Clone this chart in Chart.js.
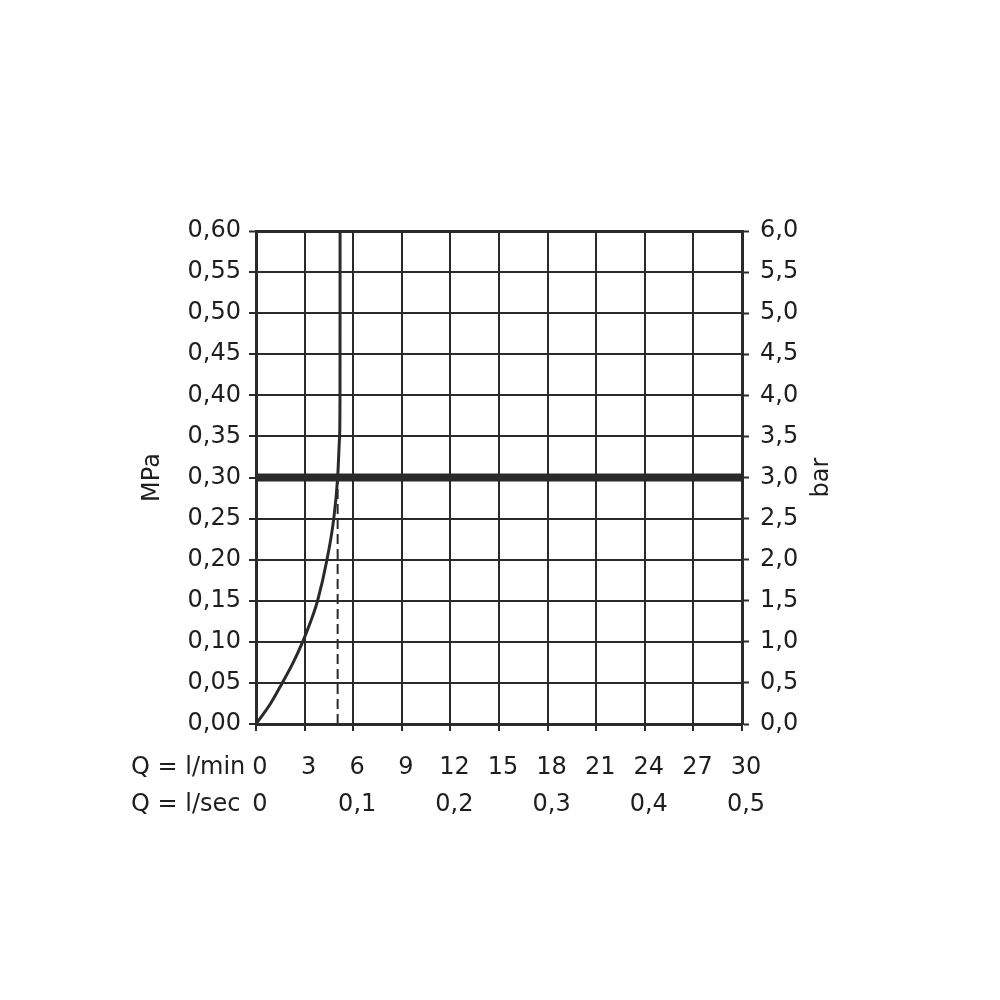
<!DOCTYPE html>
<html>
<head>
<meta charset="utf-8">
<script src="https://cdn.jsdelivr.net/npm/chart.js@4"></script>
<style>
  html, body { margin: 0; padding: 0; background: #ffffff; }
  #wrap { width: 1000px; height: 1000px; }
</style>
</head>
<body>
<div id="wrap"><canvas id="c" width="1000" height="1000"></canvas></div>
<script>
// ---- Data ----
const flowLpm      = [0, 0.9, 1.62, 2.3, 2.88, 3.38, 3.8, 4.38, 4.8, 5.04, 5.16, 5.185, 5.19];
const pressureMPa  = [0, 0.025, 0.05, 0.075, 0.10, 0.125, 0.15, 0.20, 0.25, 0.30, 0.35, 0.40, 0.60];
const workFlowLpm  = [5.04, 5.04];
const workPressure = [0, 0.30];
const refLineFlow  = [0, 30];
const refLinePress = [0.30, 0.30];
const lpmLabels = ['0','3','6','9','12','15','18','21','24','27','30'];
const lpsLabels = ['0','','0,1','','0,2','','0,3','','0,4','','0,5'];
const mpaLabels = ['0,00','0,05','0,10','0,15','0,20','0,25','0,30','0,35','0,40','0,45','0,50','0,55','0,60'];
const barLabels = ['0,0','0,5','1,0','1,5','2,0','2,5','3,0','3,5','4,0','4,5','5,0','5,5','6,0'];
const rowTitles = ['Q = l/min', 'Q = l/sec'];

const FONT = 'DejaVu Sans';
const INK = '#2a2a2a';
const TXT = '#1e1e1e';
const TICK_LEN = 7;
const XPAD = 18;
const LINE_H = 37;

const zip = (xs, ys) => xs.map((x, i) => ({x: x, y: ys[i]}));

const extras = {
  id: 'extras',
  beforeDraw(chart) {
    const ctx = chart.ctx;
    ctx.save();
    ctx.fillStyle = '#ffffff';
    ctx.fillRect(0, 0, chart.width, chart.height);
    ctx.restore();
  },
  afterDraw(chart) {
    const ctx = chart.ctx;
    const a = chart.chartArea;
    ctx.save();
    ctx.fillStyle = TXT;
    ctx.font = '24px "' + FONT + '"';
    ctx.textBaseline = 'middle';
    ctx.textAlign = 'left';
    const y0 = a.bottom + TICK_LEN + XPAD + LINE_H / 2;
    rowTitles.forEach((t, i) => ctx.fillText(t, 131, y0 + i * LINE_H));
    ctx.translate(822, (a.top + a.bottom) / 2);
    ctx.rotate(-Math.PI / 2);
    ctx.textAlign = 'center';
    ctx.fillText('bar', 0, 0);
    ctx.restore();
  }
};

new Chart(document.getElementById('c'), {
  type: 'scatter',
  data: {
    datasets: [
      { data: zip(refLineFlow, refLinePress), showLine: true, borderColor: INK, borderWidth: 8,
        pointRadius: 0, borderCapStyle: 'butt' },
      { data: zip(flowLpm, pressureMPa), showLine: true, borderColor: INK, borderWidth: 3,
        pointRadius: 0, cubicInterpolationMode: 'monotone' },
      { data: zip(workFlowLpm, workPressure), showLine: true, borderColor: INK, borderWidth: 2,
        borderDash: [10, 5], pointRadius: 0 }
    ]
  },
  options: {
    responsive: false,
    animation: false,
    layout: { padding: { left: 130, right: 158, top: 231, bottom: 156 } },
    plugins: { legend: { display: false }, tooltip: { enabled: false } },
    scales: {
      x: {
        type: 'linear', position: 'bottom', min: 0, max: 30,
        ticks: { count: 11, color: TXT, padding: XPAD, labelOffset: 4, maxRotation: 0, autoSkip: false,
          font: { family: FONT, size: 24, lineHeight: LINE_H / 24 },
          callback: (v, i) => [lpmLabels[i], lpsLabels[i]] },
        grid: { color: INK, lineWidth: 2, tickLength: TICK_LEN, tickColor: INK, tickWidth: 2 },
        border: { color: INK, width: 3 },
        afterFit: s => { s.height = 120; }
      },
      y: {
        type: 'linear', position: 'left', min: 0, max: 0.6,
        ticks: { count: 13, color: TXT, padding: 8, autoSkip: false,
          font: { family: FONT, size: 24 },
          callback: (v, i) => mpaLabels[i] },
        grid: { color: INK, lineWidth: c => (c.index === 12 ? 3 : 2), tickLength: TICK_LEN, tickColor: INK, tickWidth: 2 },
        border: { color: INK, width: 3 },
        title: { display: true, text: 'MPa', color: TXT, font: { family: FONT, size: 24 }, padding: { top: 8, bottom: 0 } },
        afterFit: s => { s.width = 126; }
      },
      y2: {
        type: 'linear', position: 'right', min: 0, max: 6,
        ticks: { count: 13, color: TXT, padding: 11, autoSkip: false,
          font: { family: FONT, size: 24 },
          callback: (v, i) => barLabels[i] },
        grid: { drawOnChartArea: false, color: INK, tickLength: TICK_LEN, tickColor: INK, tickWidth: 2 },
        border: { color: INK, width: 3 },
        afterFit: s => { s.width = 100; }
      }
    }
  },
  plugins: [extras]
});
</script>
</body>
</html>
